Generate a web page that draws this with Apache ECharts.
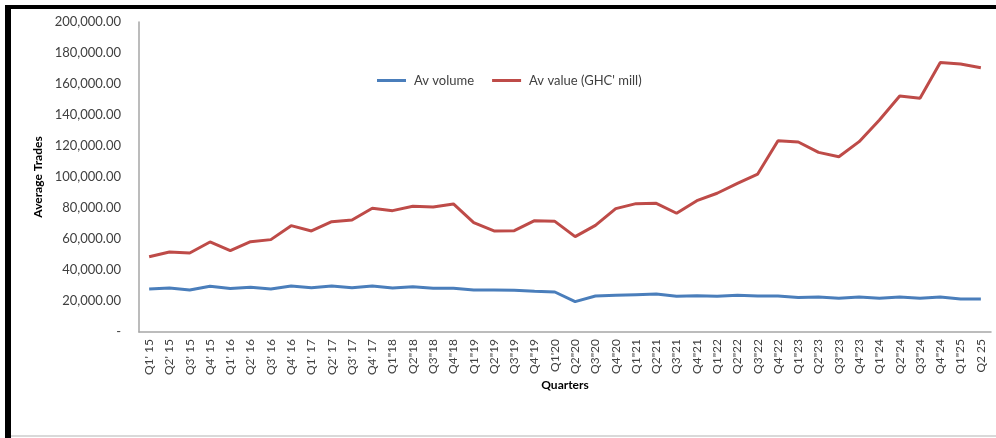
<!DOCTYPE html>
<html>
<head>
<meta charset="utf-8">
<script src="https://cdn.jsdelivr.net/npm/echarts@6/dist/echarts.min.js"></script>
<style>
  html, body { margin: 0; padding: 0; background: #ffffff; }
  #chart { width: 996px; height: 438px; }
</style>
</head>
<body>
<div id="chart"></div>
<script>
// Quarter labels along the x axis
const quarters = [
  "Q1' 15", "Q2' 15", "Q3' 15", "Q4' 15",
  "Q1' 16", "Q2' 16", "Q3' 16", "Q4' 16",
  "Q1' 17", "Q2' 17", "Q3' 17", "Q4' 17",
  'Q1"18', 'Q2"18', 'Q3"18', 'Q4"18',
  'Q1"19', 'Q2"19', 'Q3"19', 'Q4"19',
  "Q1'20", 'Q2"20', 'Q3"20', 'Q4"20',
  'Q1"21', 'Q2"21', 'Q3"21', 'Q4"21',
  'Q1"22', 'Q2"22', 'Q3"22', 'Q4"22',
  'Q1"23', 'Q2"23', 'Q3"23', 'Q4"23',
  'Q1"24', 'Q2"24', 'Q3"24', 'Q4"24',
  'Q1"25', "Q2 25"
];

// Average volume per quarter
const avVolume = [
  27700, 28400, 27100, 29500,
  28000, 28800, 27700, 29700,
  28600, 29700, 28600, 29700,
  28400, 29200, 28200, 28200,
  27100, 27100, 26900, 26300,
  25800, 19600, 23200, 23700,
  24100, 24500, 23000, 23400,
  23100, 23700, 23200, 23200,
  22200, 22600, 21700, 22600,
  21700, 22600, 21700, 22600,
  21300, 21300
];

// Average value per quarter (GHC' mill)
const avValue = [
  48600, 51600, 51000, 58100,
  52500, 58300, 59600, 68600,
  65200, 71200, 72300, 79800,
  78300, 81100, 80600, 82600,
  70500, 65200, 65400, 71800,
  71400, 61500, 68800, 79600,
  82800, 83000, 76600, 84700,
  89500, 95900, 101900, 123400,
  122600, 115900, 113100, 122800,
  136800, 152300, 150800, 173800,
  172900, 170500
];

// Value axis ticks
const yMin = 0;
const yMax = 200000;
const yStep = 20000;

const FONT = 'Lato';
const TEXT = '#404040';

const chart = echarts.init(document.getElementById('chart'));

function fmtAxis(v) {
  if (v === 0) return '-';
  return v.toLocaleString('en-US', { minimumFractionDigits: 2, maximumFractionDigits: 2 });
}

chart.setOption({
  animation: false,
  backgroundColor: '#ffffff',
  textStyle: { fontFamily: FONT },
  legend: {
    data: ['Av volume', "Av value (GHC' mill)"],
    left: 372,
    top: 69,
    itemWidth: 29,
    itemHeight: 3,
    itemGap: 18,
    icon: 'rect',
    textStyle: { fontFamily: FONT, fontSize: 13, color: TEXT, padding: [0, 0, 0, 3] }
  },
  grid: {
    left: 139,
    top: 22,
    width: 852,
    bottom: 106,
    containLabel: false
  },
  xAxis: {
    type: 'category',
    data: quarters,
    boundaryGap: true,
    name: 'Quarters',
    nameLocation: 'middle',
    nameGap: 47,
    nameMoveOverlap: false,
    nameTextStyle: { fontFamily: FONT, fontSize: 12, fontWeight: 'bold', color: '#000000' },
    axisLine: { show: true, lineStyle: { color: '#a6a6a6', width: 1.5 } },
    axisTick: { show: false },
    axisLabel: {
      interval: 0,
      rotate: 90,
      margin: 7,
      fontFamily: FONT,
      fontSize: 12,
      color: TEXT
    },
    splitLine: { show: false }
  },
  yAxis: {
    type: 'value',
    min: yMin,
    max: yMax,
    interval: yStep,
    name: 'Average Trades',
    nameLocation: 'middle',
    nameGap: 92,
    nameTextStyle: { fontFamily: FONT, fontSize: 12, fontWeight: 'bold', color: '#000000' },
    axisLine: { show: true, lineStyle: { color: '#a6a6a6', width: 1.5 } },
    axisTick: { show: false },
    axisLabel: {
      margin: 18,
      fontFamily: FONT,
      fontSize: 13,
      color: TEXT,
      formatter: fmtAxis
    },
    splitLine: { show: false }
  },
  series: [
    {
      name: 'Av volume',
      type: 'line',
      data: avVolume,
      symbol: 'none',
      color: '#4a7ebb',
      lineStyle: { width: 3, color: '#4a7ebb' }
    },
    {
      name: "Av value (GHC' mill)",
      type: 'line',
      data: avValue,
      symbol: 'none',
      color: '#be4b48',
      lineStyle: { width: 3, color: '#be4b48' }
    }
  ],
  graphic: [
    // outer frame: heavy black rule on the top and left, thin grey rule at the bottom
    { type: 'rect', shape: { x: 5, y: 5, width: 991, height: 4 }, style: { fill: '#000000' }, silent: true },
    { type: 'rect', shape: { x: 5, y: 5, width: 6, height: 433 }, style: { fill: '#000000' }, silent: true },
    { type: 'rect', shape: { x: 11, y: 435, width: 985, height: 2 }, style: { fill: '#d9d9d9' }, silent: true }
  ]
});
</script>
</body>
</html>
